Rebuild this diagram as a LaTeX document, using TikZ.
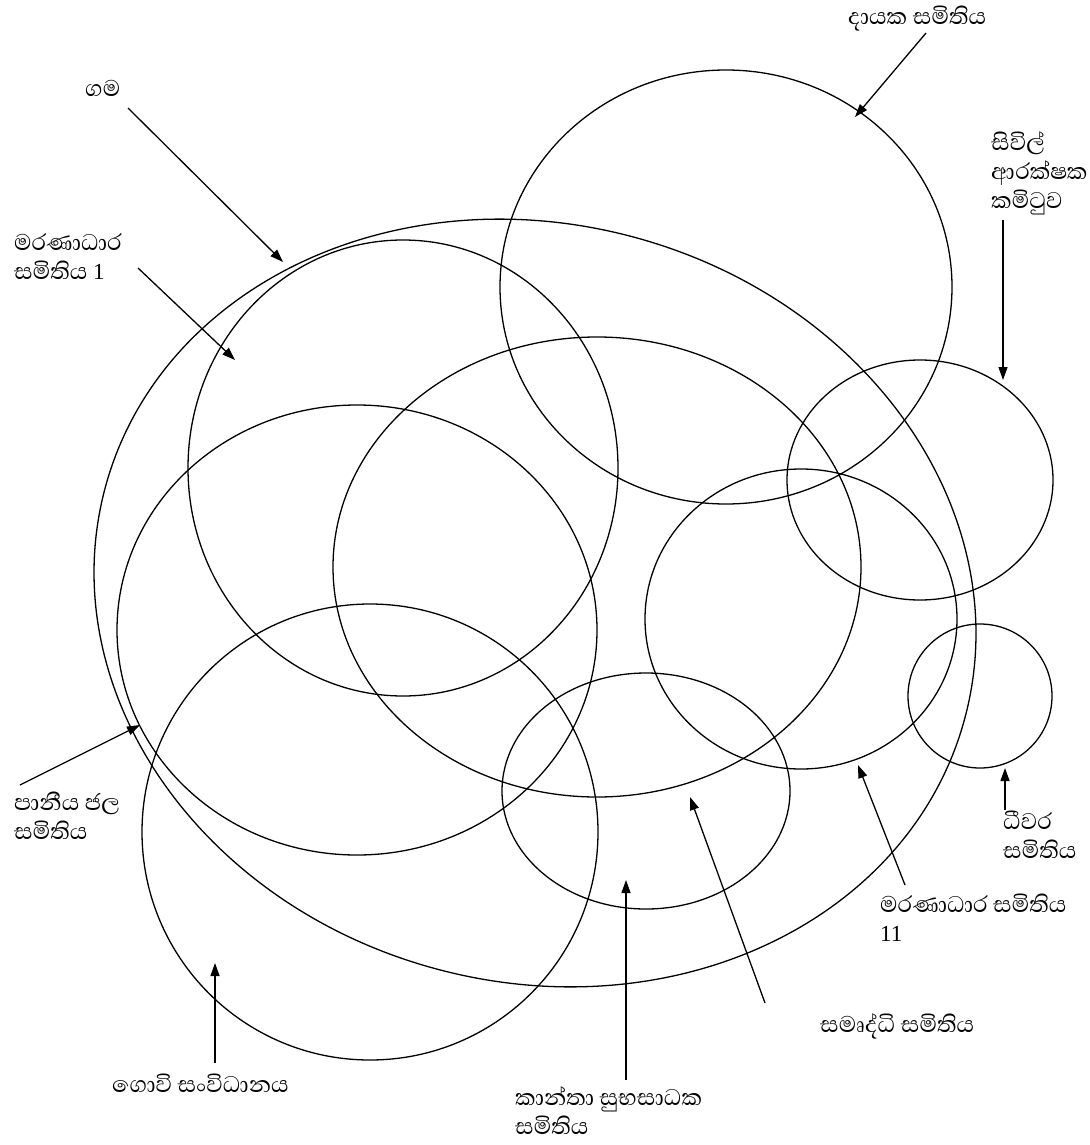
\documentclass[tikz,border=0pt]{standalone}
\usepackage{fontspec}
\newfontfamily\sinhalafont[Script=Sinhala]{Abhaya Libre}
\newfontfamily\digitfont{Liberation Serif}
\usetikzlibrary{arrows.meta}
\newcommand{\dg}[1]{{\digitfont\fontsize{23}{29}\selectfont #1}}
\begin{document}
\begin{tikzpicture}[x=1pt,y=-1pt,
  ring/.style={draw, line width=1.3pt},
  lbl/.style={font=\sinhalafont\fontsize{29}{29}\selectfont, inner sep=0pt, align=left, anchor=base west},
  arr/.style={draw, line width=1.3pt, -{Triangle[length=13pt,width=9pt]}}]
\useasboundingbox[fill=white] (0,0) rectangle (1089,1145);
% ellipses
\draw[ring] (535,603) ellipse [x radius=445pt, y radius=379pt, rotate=-15];
\draw[ring] (726,287) ellipse [x radius=226pt, y radius=217pt];
\draw[ring] (403,468) ellipse [x radius=215pt, y radius=228pt];
\draw[ring] (597,567) ellipse [x radius=264pt, y radius=230pt];
\draw[ring] (357,630) ellipse [x radius=240pt, y radius=225pt];
\draw[ring] (370,832) ellipse [x radius=228pt, y radius=228pt];
\draw[ring] (646,791) ellipse [x radius=144pt, y radius=118pt];
\draw[ring] (801,619) ellipse [x radius=156pt, y radius=150pt];
\draw[ring] (920,480) ellipse [x radius=133pt, y radius=120pt];
\draw[ring] (980,696) ellipse [x radius=72pt, y radius=72pt];
% labels (anchor = baseline of last line)
\node[lbl] (gama) at (85,97) {ගම};
\node[lbl] (dayaka) at (848,25) {දායක සමිතිය};
\node[lbl] (sivil) at (991,208) {සිවිල්\\ආරක්ෂක\\කමිටුව};
\node[lbl] (mar1) at (14,279) {මරණාධාර\\සමිතිය \dg{1}};
\node[lbl] (paniya) at (14,839) {පානීය ජල\\සමිතිය};
\node[lbl] (govi) at (112,1092) {ගොවි සංවිධානය};
\node[lbl] (kantha) at (515,1134) {කාන්තා සුභසාධක\\සමිතිය};
\node[lbl] (samurdhi) at (820,1032) {සමෘද්ධි සමිතිය};
\node[lbl] (mar11) at (880,941) {මරණාධාර සමිතිය\\\dg{11}};
\node[lbl] (dhivara) at (1003,858) {ධීවර\\සමිතිය};
% arrow ends
\coordinate (s1) at (128,108);  \coordinate (t1) at (283,262);
\coordinate (s2) at (926,33);   \coordinate (t2) at (855,117);
\coordinate (s3) at (1003,220); \coordinate (t3) at (1003,380);
\coordinate (s4) at (138,268);  \coordinate (t4) at (235,360);
\coordinate (s5) at (20,785);   \coordinate (t5) at (140,725);
\coordinate (s6) at (215,1063); \coordinate (t6) at (215,963);
\coordinate (s7) at (626,1080); \coordinate (t7) at (626,880);
\coordinate (s8) at (765,1003); \coordinate (t8) at (690,797);
\coordinate (s9) at (905,885);  \coordinate (t9) at (858,765);
\coordinate (s10) at (1005,810); \coordinate (t10) at (1005,768);
\foreach \i in {1,...,10} \draw[arr] (s\i) -- (t\i);
\end{tikzpicture}
\end{document}
